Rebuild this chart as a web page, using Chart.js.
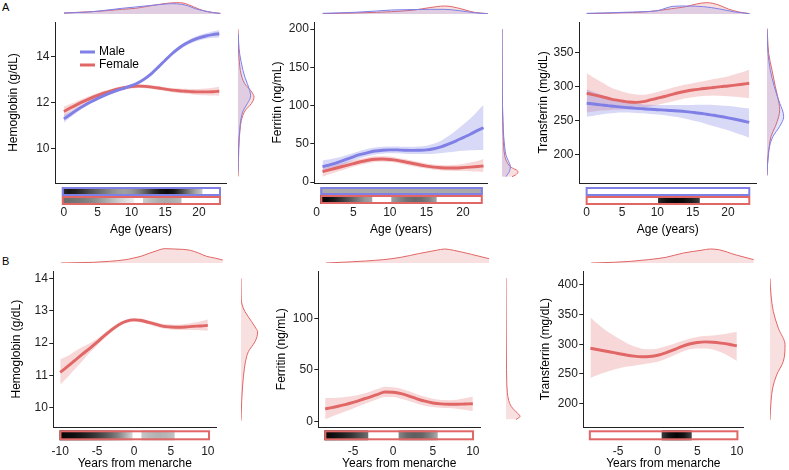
<!DOCTYPE html>
<html><head><meta charset="utf-8">
<script src="https://cdn.jsdelivr.net/npm/chart.js@4.4.1/dist/chart.umd.min.js"></script>
<style>
html,body{margin:0;padding:0;background:#fff;width:789px;height:470px;overflow:hidden;position:relative;font-family:"Liberation Sans",Arial,sans-serif}
canvas{position:absolute}
.lab{position:absolute;font-size:11px;color:#000;line-height:11px}
</style></head><body>
<div class="lab" style="left:2px;top:2px">A</div>
<div class="lab" style="left:2px;top:256px">B</div>
<script>
// ---------- categories / ticks ----------
const seriesNames = ['Male', 'Female'];
const agesA = [0,1,2,3,4,5,6,7,8,9,10,11,12,13,14,15,16,17,18,19,20,21,22,23];
const agesFer = [0.8,2,3,4,5,6,7,8,9,10,11,12,13,14,15,16,17,18,19,20,21,22,22.8];
const yrsB1 = [-10,-9,-8,-7,-6,-5,-4,-3,-2,-1,0,1,2,3,4,5,6,7,8,9,10];
const yrsB2 = [-8.5,-8,-7,-6,-5,-4,-3,-2,-1,0,1,2,3,4,5,6,7,8,9,10];
const xTicksA = [0,5,10,15,20];
const xTicksB1 = [-10,-5,0,5,10];
const xTicksB2 = [-5,0,5,10];
const yTicksHb = [10,12,14];
const yTicksFer = [0,50,100,150,200];
const yTicksTrf = [200,250,300,350];
const yTicksHbB = [10,11,12,13,14];
const yTicksFerB = [0,50,100];
const yTicksTrfB = [200,250,300,350,400];

// ---------- A: hemoglobin ----------
const hbM   = [11.3,11.5,11.7,11.88,12.04,12.19,12.32,12.44,12.55,12.64,12.74,12.87,13.05,13.28,13.56,13.85,14.13,14.37,14.56,14.71,14.82,14.9,14.96,15.0];
const hbMlo = [11.13,11.38,11.6,11.8,11.97,12.12,12.26,12.38,12.49,12.58,12.68,12.8,12.98,13.2,13.48,13.77,14.05,14.28,14.47,14.61,14.71,14.78,14.82,14.84];
const hbMhi = [11.47,11.62,11.8,11.96,12.11,12.26,12.38,12.5,12.61,12.7,12.8,12.94,13.12,13.36,13.64,13.93,14.21,14.46,14.65,14.81,14.93,15.02,15.1,15.16];
const hbF   = [11.62,11.78,11.93,12.07,12.2,12.32,12.43,12.52,12.6,12.66,12.7,12.72,12.71,12.68,12.64,12.59,12.55,12.52,12.5,12.48,12.47,12.47,12.48,12.5];
const hbFlo = [11.4,11.6,11.78,11.94,12.09,12.22,12.34,12.44,12.52,12.58,12.62,12.64,12.63,12.6,12.56,12.51,12.46,12.42,12.39,12.36,12.34,12.32,12.31,12.3];
const hbFhi = [11.84,11.96,12.08,12.2,12.31,12.42,12.52,12.6,12.68,12.74,12.78,12.8,12.79,12.76,12.72,12.67,12.64,12.62,12.61,12.6,12.6,12.62,12.65,12.7];
// ---------- A: ferritin ----------
const ferM   = [20,23,26,29.5,33,36,38.5,40.5,41.5,42,42,41.5,41.3,41.5,42,43.5,46,49.5,53.5,58,62.5,67.5,71];
const ferMlo = [13,17,20.5,24,28,31.5,34,36,37,37.5,37.5,37,36.5,36.5,36.5,37,38,39,40,41,41.5,42,42];
const ferMhi = [28,30,32,35,38,41,43.5,45,46,46.5,46.5,46,46,46.5,47.5,50,54,60,67,75,83,93,101];
const ferF   = [13.5,16.5,19,21.5,24,26.5,28.5,29.8,30,29.5,28.3,26.5,24.5,22.5,20.8,19.5,18.7,18.3,18.3,18.8,19.5,20.3,21];
const ferFlo = [7,11,14,17,20,22.5,24.5,26,26.5,26,25,23,21,19,17.5,16,15.2,14.8,14.5,14.3,14,13.6,13];
const ferFhi = [20,22,24,26,28.5,30.5,32.5,33.6,33.8,33.3,31.8,30,28,26,24.3,23,22.3,22,22.5,23.5,25.5,27.5,30];
// ---------- A: transferrin ----------
const trfM   = [275.6,274.5,273.3,272.2,271,270,269,268.2,267.5,266.8,266.2,265.6,265,264.2,263.3,262.2,261,259.5,258,256.2,254.3,252.2,250,247.5];
const trfMlo = [256,257.5,259,260.5,261.5,262,262,261.5,261,260,259,258,256.5,255,253,250.5,248,245,242,239,236,232.5,229,225];
const trfMhi = [296,292,288.5,285,282,279.5,277,275.5,274,273.5,273,273,273,273,273,273.2,273.5,273.3,273,272.3,271.5,270.5,269,268];
const trfF   = [290.3,288,285.5,283,280.5,279,277.5,277,278,280.5,283,285.5,288.3,291,293.2,295,296.4,297.6,298.8,300,301,302.2,303.5,304.9];
const trfFlo = [262,263.5,265,265.5,266,266.5,267,268,269,271,273,275.5,278,280.5,283,284.5,286,286.5,287,286.5,286,285,284,283];
const trfFhi = [320,313,307,301,296,293,290,288.5,288,289.5,292,295,298,300.5,303,305,307,309,311,313,315,318,321,325];
// ---------- B ----------
const hbB   = [11.1,11.28,11.47,11.66,11.84,12.03,12.23,12.42,12.58,12.68,12.72,12.7,12.64,12.58,12.52,12.5,12.49,12.5,12.52,12.53,12.55];
const hbBlo = [10.72,10.95,11.2,11.45,11.7,11.93,12.15,12.35,12.52,12.63,12.66,12.64,12.58,12.51,12.45,12.42,12.41,12.41,12.41,12.4,12.38];
const hbBhi = [11.5,11.6,11.75,11.88,12.0,12.14,12.31,12.49,12.64,12.73,12.78,12.76,12.7,12.65,12.59,12.58,12.57,12.59,12.63,12.67,12.73];
const ferB   = [12,12.8,14.4,16.2,18.3,20.7,23.3,25.8,28.5,28.2,26.8,24.5,21.8,19.5,17.8,16.9,16.6,16.6,16.8,17];
const ferBlo = [2,3.5,6.5,9.5,12.5,15.5,18.5,21.5,23.5,23.5,22,19.8,17.3,15.2,13.8,13.2,12.8,12.2,11.3,10];
const ferBhi = [22.5,22.5,22.8,23.5,24.5,26.2,28.5,31,33.5,33,31.6,29.2,26.3,23.8,21.8,20.6,20.5,21,22.3,24];
const trfB   = [293.3,292,289.5,287,284.5,282,280,279,279.5,281.5,285.5,290.5,296,300.5,303,304,303.5,302,300,297.3];
const trfBlo = [243,246,251,255.5,259,262,264,266,268,270.5,275,281,287,291.5,293,293,291,286.5,280,272];
const trfBhi = [345,339,328,318.5,310,302.5,296.5,292.5,291.5,293,296.5,300.5,305,309.5,312.5,314,315,316.5,318.5,321];

// ---------- marginal densities (top: by x; right: by y) ----------
const dTopHbMx = [0,2,3.6,6,8.5,10.5,12.4,14.4,15.8,17.3,18.3,19.3,20.7,22,23];
const dTopHbMv = [3,4.5,6,11,17,21,25,29,31,29,24,16,9,4,1.5];
const dTopHbFx = [0,2,5,8.5,10.5,12,14.4,16.5,17.5,18.3,19,20.5,22,23];
const dTopHbFv = [3,5,8,14,17,22,30,34,33,28,22,10,4,2];
const dRightHbMy = [15.0,14.6,14.13,13.8,13.4,13.1,12.83,12.53,12.3,11.96,11.67,11.23,10.8,10.5,10.0,9.4,9.0];
const dRightHbMv = [0.5,2,5,9,15,21,28,35,38,28,16,8,5,3,1.5,0.5,0];
const dRightHbFy = [15.2,14.6,14.13,13.8,13.4,13.1,12.83,12.53,12.24,11.96,11.67,11.23,10.8,10.5,10.0,9.4,8.8];
const dRightHbFv = [0,1,2,4,7,12,20,38,48,40,22,10,6,4,2.5,1,0.3];

const dTopFerMx = [0.8,3,5,8,10,12,15,17,19,21,22.8];
const dTopFerMv = [2,3.5,5,9,12,13,14,14,10,4,1];
const dTopFerFx = [0.8,3,5,8,10,13,15,16,17,18,19.5,21,22.8];
const dTopFerFv = [1,2,3,5,7,12,19,22,24,22,14,5,1];
const dRightFerY = [200,150,100,81,60,46,35,28.7,20,13.4,9,7];
const dRightFerMv = [0,0.5,1.5,3,5,8,12,18,25,22,15,12];
const dRightFerFv = [0,0.3,1,2,3.5,5,8,12,25,48,40,30];

const dTopTrfMx = [0,3,5,8,10,12.2,14.1,16.5,18.8,20.7,23];
const dTopTrfMv = [2,3.5,5,7,10,23,24,22,15,7,1];
const dTopTrfFx = [0,3,5,8,10,12,14,15.5,17,18.5,20,21.5,23];
const dTopTrfFv = [1,2.5,4,6,10,16,22,30,34,28,15,6,1];
const dRightTrfY = [385,370,348.7,324,300,275.8,266,256,241.7,227,213,203,185,170];
const dRightTrfMv = [0,1,3,10,22,38,46,50,38,18,8,5,1.5,0];
const dRightTrfFv = [0,2,5,15,25,36,38,35,25,12,7,4,1,0];

const dTopHbBx = [-10,-8,-6,-4,-2,-1,0,1,2,2.5,3,4,5,6,7,8,9,10];
const dTopHbBv = [0,1,2,5,10,15,21,30,38,42,43,42,41,38,30,20,15,9];
const dRightHbBy = [14,13.5,13.2,12.97,12.66,12.45,12.35,12.2,12.04,11.73,11.5,11.2,10.7,10.2,9.6];
const dRightHbBv = [0,0.5,3,12,32,45,50,48,42,22,15,10,5,2,0];
const dTopFerBx = [-8.5,-6,-4,-2,0,2,4,5,6,8,10];
const dTopFerBv = [0,3,6,10,17,28,38,42,38,26,13];
const dRightFerBy = [139,100,70,50,35,28,20,14,9,4.5,1.5];
const dRightFerBv = [0,0.5,1,1.5,2.5,4,8,16,30,42,30];
const dTopTrfBx = [-8.5,-6,-4,-2,0,2,4,5,6,8,10];
const dTopTrfBv = [0,2,5,10,17,30,38,42,40,24,10];
const dRightTrfBy = [411,383,355,327,299,271,248,226,203,172];
const dRightTrfBv = [0,3,10,25,45,40,20,8,3,0];

// ---------- sample-coverage strips: [from, to, gray levels] ----------
const stripHbM  = [[-0.3,20.5,[45,25,35,55,80,100,120,140,155,160,150,125,90,50,20,10,25,70,120,165,200]]];
const stripHbF  = [[-0.3,10.4,[110,112,118,125,135,150,168,188,208,225,238]],[11.7,17.4,[205,188,175,170,175,185]]];
const stripFerM = [[0.5,22.7,[170,170]]];
const stripFerF = [[0.5,7.6,[5,10,30,60,90,120,150,165]],[10.2,16.4,[160,135,115,105,110,130,165]]];
const stripTrfM = [];
const stripTrfF = [[10.1,16.0,[40,15,5,10,30,60]]];
const stripHbB  = [[-10.1,-0.2,[5,10,15,25,40,58,78,102,130,170,215]],[1.0,5.5,[200,185,178,182,195]]];
const stripFerB = [[-8.6,-3.1,[5,15,30,50,80,110]],[0.7,5.6,[135,105,95,100,130,170]]];
const stripTrfB = [[0.5,4.3,[60,20,5,20,70]]];

// ---------- styles ----------
const COL = { Male: '#7f7fe6', Female: '#e16666' };
const BAND = { Male: 'rgba(127,127,230,0.30)', Female: 'rgba(225,102,102,0.26)' };
const DFILL = { Male: 'rgba(127,127,230,0.20)', Female: 'rgba(225,102,102,0.20)' };

Chart.defaults.font.family = '"Liberation Sans", Arial, sans-serif';
Chart.defaults.animation = false;

function pts(xs, ys) { return xs.map((x, i) => ({ x: x, y: ys[i] })); }
function mk(left, top, w, h) {
  const c = document.createElement('canvas');
  c.width = Math.round(w); c.height = Math.round(h);
  c.style.left = left + 'px'; c.style.top = top + 'px';
  c.style.width = Math.round(w) + 'px'; c.style.height = Math.round(h) + 'px';
  document.body.appendChild(c);
  return c;
}
const baseOpts = { responsive: false, devicePixelRatio: 1, animation: false, events: [],
  plugins: { legend: { display: false }, tooltip: { enabled: false } } };

function panel(p) {
  // ---- main chart ----
  const ds = [];
  p.series.forEach(s => ds.push({ label: s.name, data: pts(p.x, s.y), borderColor: COL[s.name], borderWidth: 2.9,
    pointRadius: 0, fill: false, order: 0, cubicInterpolationMode: 'monotone' }));
  p.series.forEach(s => {
    const i = ds.length;
    ds.push({ data: pts(p.x, s.lo), borderColor: 'rgba(0,0,0,0)', borderWidth: 0, pointRadius: 0, fill: false, order: 1, cubicInterpolationMode: 'monotone' });
    ds.push({ data: pts(p.x, s.hi), borderColor: 'rgba(0,0,0,0)', borderWidth: 0, pointRadius: 0, fill: i, backgroundColor: BAND[s.name], order: 1, cubicInterpolationMode: 'monotone' });
  });
  const stripPlugin = { id: 'strips', afterDraw(chart) {
    const xs = chart.scales.x, ctx = chart.ctx, b = chart.chartArea.bottom;
    ctx.save();
    p.strips.forEach(row => {
      const x0 = xs.getPixelForValue(row.range[0]), x1 = xs.getPixelForValue(row.range[1]);
      const t = b + row.off[0], bt = b + row.off[1];
      ctx.fillStyle = '#fff'; ctx.fillRect(x0, t, x1 - x0, bt - t);
      row.segs.forEach(sg => {
        const s0 = xs.getPixelForValue(sg[0]), s1 = xs.getPixelForValue(sg[1]);
        const g = ctx.createLinearGradient(s0, 0, s1, 0);
        sg[2].forEach((v, k) => g.addColorStop(k / (sg[2].length - 1), 'rgb(' + v + ',' + v + ',' + v + ')'));
        ctx.fillStyle = g; ctx.fillRect(s0, t, s1 - s0, bt - t);
      });
      ctx.strokeStyle = row.color; ctx.lineWidth = 2;
      ctx.strokeRect(x0 + 1, t + 1, x1 - x0 - 2, bt - t - 2);
    });
    ctx.restore();
  } };
  const legendPlugin = { id: 'inLegend', afterDraw(chart) {
    if (!p.legend) return;
    const ctx = chart.ctx; ctx.save();
    chart.data.datasets.filter(d => d.label).forEach((d, i) => {
      const y = p.legend.y + i * 13;
      ctx.strokeStyle = d.borderColor; ctx.lineWidth = 3; ctx.beginPath();
      ctx.moveTo(p.legend.x, y); ctx.lineTo(p.legend.x + 15, y); ctx.stroke();
      ctx.fillStyle = '#000'; ctx.font = '12px "Liberation Sans", Arial'; ctx.textBaseline = 'middle';
      ctx.fillText(d.label, p.legend.x + 19, y);
    });
    ctx.restore();
  } };
  new Chart(mk(p.left, p.cTop, p.w, p.h), {
    type: 'line', data: { datasets: ds }, plugins: [stripPlugin, legendPlugin],
    options: Object.assign({}, baseOpts, {
      layout: { padding: { top: p.padTop, left: 0, right: 0, bottom: 0 } },
      scales: {
        x: { type: 'linear', min: p.xmin, max: p.xmax,
          afterBuildTicks: s => { s.ticks = p.xticks.map(v => ({ value: v })); },
          afterFit: s => { s.height = p.xh; },
          grid: { display: false, drawTicks: false, drawOnChartArea: false },
          border: { display: true, color: '#222', width: 1 },
          ticks: { padding: p.xpad, color: '#222', font: { size: 12 }, autoSkip: false, maxRotation: 0, callback: v => String(v) },
          title: { display: true, text: p.xtitle, color: '#000', font: { size: 12, lineHeight: 1 }, padding: { top: 0, bottom: 0 } } },
        y: { type: 'linear', min: p.ymin, max: p.ymax,
          afterBuildTicks: s => { s.ticks = p.yticks.map(v => ({ value: v })); },
          afterFit: s => { s.width = p.yw; },
          grid: { display: true, drawOnChartArea: false, drawTicks: true, tickLength: 4, color: '#222' },
          border: { display: true, color: '#222', width: 1 },
          ticks: { padding: 1.5, color: '#222', font: { size: 12 }, callback: v => String(v) },
          title: { display: true, text: p.ytitle, color: '#000', font: { size: 12, lineHeight: 1 }, padding: { top: p.ytp, bottom: 0 } } }
      }
    })
  });
  // ---- top marginal density ----
  new Chart(mk(p.left, p.dTop, p.w, p.dH), {
    type: 'line',
    data: { datasets: p.topD.map(d => ({ data: pts(d.x, d.v), borderColor: COL[d.name], borderWidth: 1, backgroundColor: DFILL[d.name],
      fill: 'origin', pointRadius: 0, cubicInterpolationMode: 'monotone' })) },
    options: Object.assign({}, baseOpts, {
      layout: { padding: { left: p.yw, right: 0, top: 0, bottom: 0 } },
      scales: { x: { type: 'linear', display: false, min: p.xmin, max: p.xmax },
                y: { type: 'linear', display: false, min: 0, max: p.dH * 3 } } })
  });
  // ---- right marginal density ----
  const rH = p.plotBottom - p.plotTop;
  new Chart(mk(p.rLeft, p.plotTop, p.rW, rH), {
    type: 'line',
    data: { datasets: p.rightD.map(d => ({ data: d.y.map((y, i) => ({ x: d.v[i], y: y })), borderColor: COL[d.name], borderWidth: 1,
      backgroundColor: DFILL[d.name], fill: 'origin', pointRadius: 0, cubicInterpolationMode: 'monotone' })) },
    options: Object.assign({}, baseOpts, { indexAxis: 'y',
      layout: { padding: 0 },
      scales: { x: { type: 'linear', display: false, min: 0, max: p.rW * 3 },
                y: { type: 'linear', display: false, min: p.ymin, max: p.ymax } } })
  });
}

// ---------- panels ----------
const A = { cTop: 12, h: 224, padTop: 10, xh: 53, xpad: 22.3, dTop: 0, dH: 14, plotTop: 22, plotBottom: 183, xticks: xTicksA, xtitle: 'Age (years)' };
const B = { cTop: 261, h: 209, padTop: 10, xh: 42.7, xpad: 17.5, dTop: 247, dH: 16, plotTop: 271, plotBottom: 427.3, xtitle: 'Years from menarche' };

panel(Object.assign({}, A, { left: 0, w: 228, yw: 55, ytp: 7.3, xmin: -1.32, xmax: 24.12, ymin: 8.51, ymax: 15.51,
  yticks: yTicksHb, ytitle: 'Hemoglobin (g/dL)', x: agesA,
  series: [{ name: 'Male', y: hbM, lo: hbMlo, hi: hbMhi }, { name: 'Female', y: hbF, lo: hbFlo, hi: hbFhi }],
  strips: [{ color: COL.Male, range: [-0.3, 23.25], off: [4, 13], segs: stripHbM }, { color: COL.Female, range: [-0.3, 23.25], off: [13, 22], segs: stripHbF }],
  topD: [{ name: 'Male', x: dTopHbMx, v: dTopHbMv }, { name: 'Female', x: dTopHbFx, v: dTopHbFv }],
  rLeft: 238, rW: 22,
  rightD: [{ name: 'Male', y: dRightHbMy, v: dRightHbMv }, { name: 'Female', y: dRightHbFy, v: dRightHbFv }],
  legend: { x: 80, y: 40 } }));

panel(Object.assign({}, A, { left: 262, w: 230, yw: 52.3, ytp: 9.7, xmin: -0.32, xmax: 23.37, ymin: -1.3, ymax: 209.2,
  yticks: yTicksFer, ytitle: 'Ferritin (ng/mL)', x: agesFer,
  series: [{ name: 'Male', y: ferM, lo: ferMlo, hi: ferMhi }, { name: 'Female', y: ferF, lo: ferFlo, hi: ferFhi }],
  strips: [{ color: COL.Male, range: [0.5, 22.7], off: [4, 12], segs: stripFerM }, { color: COL.Female, range: [0.5, 22.7], off: [12, 21], segs: stripFerF }],
  topD: [{ name: 'Male', x: dTopFerMx, v: dTopFerMv }, { name: 'Female', x: dTopFerFx, v: dTopFerFv }],
  rLeft: 502, rW: 22,
  rightD: [{ name: 'Male', y: dRightFerY, v: dRightFerMv }, { name: 'Female', y: dRightFerY, v: dRightFerFv }] }));

panel(Object.assign({}, A, { left: 522, w: 235, yw: 57, ytp: 15.3, xmin: -1.09, xmax: 24.05, ymin: 158.8, ymax: 394.7,
  yticks: yTicksTrf, ytitle: 'Transferrin (mg/dL)', x: agesA,
  series: [{ name: 'Male', y: trfM, lo: trfMlo, hi: trfMhi }, { name: 'Female', y: trfF, lo: trfFlo, hi: trfFhi }],
  strips: [{ color: COL.Male, range: [-0.15, 23.15], off: [4, 13], segs: stripTrfM }, { color: COL.Female, range: [-0.15, 23.15], off: [13, 22], segs: stripTrfF }],
  topD: [{ name: 'Male', x: dTopTrfMx, v: dTopTrfMv }, { name: 'Female', x: dTopTrfFx, v: dTopTrfFv }],
  rLeft: 767, rW: 22,
  rightD: [{ name: 'Male', y: dRightTrfY, v: dRightTrfMv }, { name: 'Female', y: dRightTrfY, v: dRightTrfFv }] }));

panel(Object.assign({}, B, { left: 0, w: 232, yw: 53.3, ytp: 11, xmin: -10.94, xmax: 11.14, ymin: 9.40, ymax: 14.23,
  xticks: xTicksB1, yticks: yTicksHbB, ytitle: 'Hemoglobin (g/dL)', x: yrsB1,
  series: [{ name: 'Female', y: hbB, lo: hbBlo, hi: hbBhi }],
  strips: [{ color: COL.Female, range: [-10.1, 10.3], off: [3, 13], segs: stripHbB }],
  topD: [{ name: 'Female', x: dTopHbBx, v: dTopHbBv }],
  rLeft: 241, rW: 20,
  rightD: [{ name: 'Female', y: dRightHbBy, v: dRightHbBv }] }));

panel(Object.assign({}, B, { left: 262, w: 235, yw: 56.3, ytp: 13.3, xmin: -9.36, xmax: 10.91, ymin: -5.8, ymax: 145.8,
  xticks: xTicksB2, yticks: yTicksFerB, ytitle: 'Ferritin (ng/mL)', x: yrsB2,
  series: [{ name: 'Female', y: ferB, lo: ferBlo, hi: ferBhi }],
  strips: [{ color: COL.Female, range: [-8.6, 10.15], off: [3, 13], segs: stripFerB }],
  topD: [{ name: 'Female', x: dTopFerBx, v: dTopFerBv }],
  rLeft: 506, rW: 20,
  rightD: [{ name: 'Female', y: dRightFerBy, v: dRightFerBv }] }));

panel(Object.assign({}, B, { left: 522, w: 239, yw: 61.3, ytp: 18, xmin: -9.4, xmax: 10.83, ymin: 160, ymax: 423.6,
  xticks: xTicksB2, yticks: yTicksTrfB, ytitle: 'Transferrin (mg/dL)', x: yrsB2,
  series: [{ name: 'Female', y: trfB, lo: trfBlo, hi: trfBhi }],
  strips: [{ color: COL.Female, range: [-8.7, 10.2], off: [3, 13], segs: stripTrfB }],
  topD: [{ name: 'Female', x: dTopTrfBx, v: dTopTrfBv }],
  rLeft: 770, rW: 19,
  rightD: [{ name: 'Female', y: dRightTrfBy, v: dRightTrfBv }] }));
</script>
</body></html>
